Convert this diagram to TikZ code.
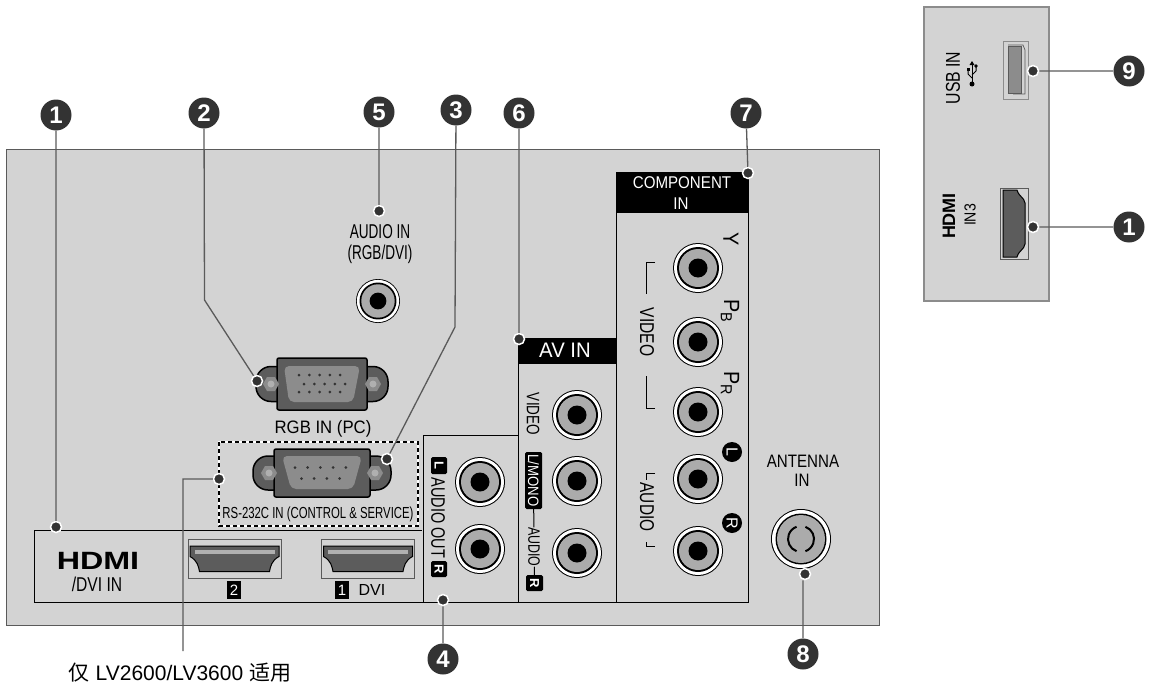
\documentclass[tikz,border=0pt]{standalone}
\usepackage{fontspec}
\usepackage{tikz}
\usepackage{xcolor}
\setmainfont{Liberation Sans}
\newfontfamily\cjk{Noto Sans CJK SC}
\usetikzlibrary{calc, positioning}

\definecolor{panelgray}{HTML}{D3D3D3}
\definecolor{jackgray}{HTML}{ABABAB}
\definecolor{portdark}{HTML}{5C5C5C}
\definecolor{portmid}{HTML}{8C8C8C}
\definecolor{portlight}{HTML}{B0B0B0}
\definecolor{badgedark}{HTML}{333333}
\definecolor{leadgray}{HTML}{5A5A5A}

\newcommand{\fs}[1]{\fontsize{#1}{#1}\selectfont}

\tikzset{
    badge/.style={circle, fill=badgedark, text=white, inner sep=0, minimum size=31pt, font=\fs{24}\bfseries},
    dot/.style={circle, fill=badgedark, draw=white, line width=1.5pt, inner sep=0, minimum size=11pt},
    lead/.style={draw=leadgray, line width=1.3pt},
    edgeline/.style={draw=black, line width=1pt},
    lab/.style={text=black, inner sep=0, transform shape, font=\fs{#1}},
    lab/.default=15,
    tagbox/.style={fill=black, text=white, inner sep=0, rounded corners=1.5pt, transform shape, font=\fs{13}\bfseries},
    tagdisc/.style={circle, fill=black, text=white, inner sep=0, minimum size=20pt, transform shape, rotate=-90, font=\fs{16}},
    pics/jack/.style={code={
        \fill[black] (0,0) circle (25);
        \fill[white] (0,0) circle (24);
        \fill[black] (0,0) circle (21);
        \fill[jackgray] (0,0) circle (19);
        \fill[black] (0,0) circle (9.5);
    }},
    pics/antjack/.style={code={
        \fill[black] (0,0) circle (30);
        \fill[white] (0,0) circle (29);
        \fill[black] (0,0) circle (25.5);
        \fill[jackgray] (0,0) circle (24);
        \draw[black, line width=2pt] (-70:13) arc (-70:70:13);
        \draw[black, line width=2pt] (110:13) arc (110:250:13);
    }},
    pics/hdmiport/.style={code={
        \draw[draw=leadgray, line width=1pt] (-46.5,-19.5) rectangle (46.5,19.5);
        \draw[fill=portdark, draw=black, line width=1pt] (-44.5,-12.5) -- (44.5,-12.5) -- (44.5,-2)
            .. controls (37,2) and (36,8) .. (35,13) -- (-35,13)
            .. controls (-36,8) and (-37,2) .. (-44.5,-2) -- cycle;
        \fill[portlight] (-40,-9) rectangle (40,-5);
    }},
    pics/vgaport/.style={code={
        \draw[fill=portdark, draw=black, line width=1.5pt, rounded corners=15pt] (-66,-17.5) rectangle (66,17.5);
        \draw[fill=portdark, draw=black, line width=1.5pt, rounded corners=2pt] (-45,-26) rectangle (45,26);
        \fill[portmid, rounded corners=5pt] (-38,-18) -- (38,-18) -- (31,18) -- (-33,18) -- cycle;
        \fill[portmid] (-59,0) -- (-55,-7) -- (-47,-7) -- (-43,0) -- (-47,7) -- (-55,7) -- cycle;
        \fill[portmid] (59,0) -- (55,-7) -- (47,-7) -- (43,0) -- (47,7) -- (55,7) -- cycle;
        \fill[portlight] (-51,0) circle (3.5);
        \fill[portlight] (51,0) circle (3.5);
        \foreach \i in {0,...,4} {
            \fill[black!80] (-23+10.3*\i,-9) circle (1.5);
            \fill[black!80] (-18+10.3*\i,0) circle (1.5);
            \fill[black!80] (-23+10.3*\i,8) circle (1.5);
        }
    }},
    pics/comport/.style={code={
        \draw[fill=portdark, draw=black, line width=1.5pt, rounded corners=15pt] (-69,-17) rectangle (69,17);
        \draw[fill=portdark, draw=black, line width=1.5pt, rounded corners=2pt] (-48,-24) rectangle (48,24);
        \fill[portmid, rounded corners=5pt] (-40,-17) -- (40,-17) -- (31,16) -- (-31,16) -- cycle;
        \fill[portmid] (-61,0) -- (-57,-7) -- (-49,-7) -- (-45,0) -- (-49,7) -- (-57,7) -- cycle;
        \fill[portmid] (61,0) -- (57,-7) -- (49,-7) -- (45,0) -- (49,7) -- (57,7) -- cycle;
        \fill[portlight] (-53,0) circle (3.5);
        \fill[portlight] (53,0) circle (3.5);
        \foreach \i in {0,...,4} {
            \fill[black!80] (-27+12.7*\i,-5.5) circle (1.5);
        }
        \foreach \i in {0,...,3} {
            \fill[black!80] (-20.5+12.7*\i,5.5) circle (1.5);
        }
    }},
}

\begin{document}
\begin{tikzpicture}[x=1pt, y=-1pt]
    \useasboundingbox (0,0) rectangle (1152,688);

    % panels
    \draw[fill=panelgray, draw=leadgray, line width=1pt] (6,149) rectangle (879,625);
    \draw[fill=panelgray, draw=portmid, line width=2pt] (924,7) rectangle (1049,301);

    % section outlines
    \draw[edgeline] (34,530) -- (422,530);
    \draw[edgeline] (34,530) -- (34,602) -- (748,602) -- (748,173);
    \draw[edgeline] (423,602) -- (423,435) -- (518,435);
    \draw[edgeline] (518,338) -- (518,602);
    \draw[edgeline] (616,173) -- (616,602);
    \fill[black] (616,172) rectangle (749,213);
    \fill[black] (518,338) rectangle (616,364);

    % dashed box
    \draw[white, line width=1.5pt] (219,442) rectangle (418,526);
    \draw[black, line width=1.5pt, dash pattern=on 4pt off 3pt] (219,442) rectangle (418,526);

    % connectors
    \pic at (322,384) {vgaport};
    \pic at (322,473) {comport};
    \pic at (234.5,558.5) {hdmiport};
    \pic at (368,558.5) {hdmiport};
    \pic[scale=.88] at (378,301) {jack};
    \pic at (698,268) {jack};
    \pic at (698,342) {jack};
    \pic at (698,412) {jack};
    \pic at (698,479) {jack};
    \pic at (698,551) {jack};
    \pic at (577,415) {jack};
    \pic at (577,481) {jack};
    \pic at (577,553) {jack};
    \pic at (480,482) {jack};
    \pic at (480,549) {jack};
    \pic at (801,539) {antjack};

    % side panel ports
    \draw[draw=portmid, line width=1pt] (1003,41) rectangle (1028,99);
    \draw[draw=leadgray, line width=.7pt] (1008,45) -- (1023,45) -- (1025,50) -- (1025,94) -- (1013,94);
    \draw[fill=portmid, draw=leadgray, line width=1pt] (1008,46) rectangle (1021,93);
    \draw[draw=leadgray, line width=1pt] (1000,188) rectangle (1028,259);
    \draw[fill=portdark, draw=black, line width=1pt] (1003,190) -- (1017,190)
        .. controls (1019,197) and (1024,197) .. (1025,203) -- (1025,244)
        .. controls (1024,250) and (1019,250) .. (1017,257) -- (1003,257) -- cycle;

    % usb symbol
    \draw[black, line width=1pt] (972,84) -- (972,64);
    \draw[black, line width=1pt] (972,78) -- (968,74) -- (968,70);
    \draw[black, line width=1pt] (972,75) -- (976,71) -- (976,67);
    \fill[black] (972,84) circle (2.5);
    \fill[black] (972,61) -- (969.5,65) -- (974.5,65) -- cycle;
    \fill[black] (966.5,68) rectangle (969.5,71);
    \fill[black] (976,66) circle (1.8);

    % labels
    \node[lab=18, xscale=.93] (rgblabel) at (323,429) {RGB IN (PC)};
    \node[lab=16, xscale=.71] (rslabel) at (318,514) {RS-232C IN (CONTROL \& SERVICE)};
    \node[lab=20, xscale=.68] (audioinlabel) at (380,232) {AUDIO IN};
    \node[lab=20, xscale=.68] (rgbdvilabel) at (380,254) {(RGB/DVI)};
    \node[lab=20, xscale=.78] (dvilabel) at (97,584) {/DVI IN};
    \node[lab=25, xscale=1.29, font=\fs{25}\bfseries] (hdmilogo) at (98,561) {HDMI};
    \node[fill=black, text=white, inner sep=0, minimum width=14pt, minimum height=18pt, font=\fs{15}] (tagtwo) at (234,590) {2};
    \node[fill=black, text=white, inner sep=0, minimum width=14pt, minimum height=18pt, font=\fs{15}] (tagone) at (342,590) {1};
    \node[lab=16] (dvitag) at (372,590) {DVI};
    \node[lab=17, text=white, xscale=.89] (complabel) at (682,183) {COMPONENT};
    \node[lab=17, text=white, xscale=.89] (inlabel) at (681,204) {IN};
    \node[lab=21, text=white, xscale=.967] (avlabel) at (565,350) {AV IN};
    \node[lab=22, rotate=-90, xscale=.9] (ylabel) at (731,239) {Y};
    \node[lab=22, rotate=-90, xscale=.9] (pblabel) at (730,311) {P\raisebox{-.15em}{\fs{16}B}};
    \node[lab=22, rotate=-90, xscale=.9] (prlabel) at (730,383) {P\raisebox{-.15em}{\fs{16}R}};
    \node[lab=20, rotate=-90, xscale=.78] (videolabel) at (647,332) {VIDEO};
    \node[lab=20, rotate=-90, xscale=.77] (audiolabel) at (647,507) {AUDIO};
    \node[tagdisc] (ldisc) at (732,452) {L};
    \node[tagdisc] (rdisc) at (732,523) {R};
    \node[lab=18, rotate=-90, xscale=.75] (avvideo) at (533,414) {VIDEO};
    \node[fill=black, inner sep=0, rounded corners=1.5pt, minimum width=17pt, minimum height=57pt] (monotag) at (533.5,480.5) {};
    \node[lab=15, text=white, rotate=-90, xscale=.88] (monolabel) at (533.5,480.5) {L/MONO};
    \node[lab=16.5, rotate=-90, xscale=.75] (avaudio) at (534,547) {AUDIO};
    \node[tagbox, minimum width=16pt, minimum height=17pt, rotate=-90] (avr) at (534.5,583) {R};
    \node[tagbox, minimum width=17pt, minimum height=16pt, rotate=-90] (outl) at (439,465.5) {L};
    \node[lab=19.5, rotate=-90, xscale=.74] (outlabel) at (438,518) {AUDIO OUT};
    \node[tagbox, minimum width=16pt, minimum height=16pt, rotate=-90] (outr) at (439,569) {R};
    \node[lab=18, xscale=.84] (antlabel) at (803,461) {ANTENNA};
    \node[lab=18, xscale=.84] (antin) at (802,480) {IN};
    \node[lab=21] (notelabel) at (180,673) {{\cjk 仅} LV2600/LV3600 {\cjk 适用}};
    \node[lab=20, rotate=90, xscale=.79] (usblabel) at (953,78) {USB IN};
    \node[lab=18, rotate=90, font=\fs{18}\bfseries] (sidelogo) at (949,216) {HDMI};
    \node[lab=16, rotate=90, xscale=.88] (in3label) at (970,215) {IN3};

    % small brackets
    \draw[black, line width=1pt] (655,262) -- (646,262) -- (646,294);
    \draw[black, line width=1pt] (655,408) -- (646,408) -- (646,376);
    \draw[black, line width=1pt] (655,473) -- (646,473) -- (646,480);
    \draw[black, line width=1pt] (655,546) -- (646,546) -- (646,542);
    \draw[black, line width=1pt] (monotag) -- (avaudio);
    \draw[black, line width=1pt] (avaudio) -- (avr);

    % numbered badges and dots
    \node[badge] (n1) at (56,115) {1};
    \node[badge] (n2) at (204,113) {2};
    \node[badge] (n5) at (379,112) {5};
    \node[badge] (n3) at (456,110) {3};
    \node[badge] (n6) at (519,113) {6};
    \node[badge] (n7) at (746,113) {7};
    \node[badge] (n9) at (1129,71) {9};
    \node[badge] (n1b) at (1129,227) {1};
    \node[badge] (n4) at (443,659) {4};
    \node[badge] (n8) at (803,654) {8};

    \node[dot] (d1) at (56,527) {};
    \node[dot] (d2) at (257,381) {};
    \node[dot] (d5) at (379,211) {};
    \node[dot] (d3) at (387,459) {};
    \node[dot] (d6) at (519,339) {};
    \node[dot] (d7) at (748,173) {};
    \node[dot] (d9) at (1033,71) {};
    \node[dot] (d1b) at (1033,227) {};
    \node[dot] (d4) at (443,600) {};
    \node[dot] (d8) at (805,574) {};
    \node[dot] (dnote) at (219,479) {};

    \coordinate (bend2) at (204.5,300);
    \coordinate (bend3) at (455,327);
    \coordinate (bendnote) at (183,479);
    \coordinate (endnote) at (183,651);

    \draw[lead]
    (n1) -- (d1)
    (n2) -- (bend2) -- (d2)
    (n5) -- (d5)
    (n3) -- (bend3) -- (d3)
    (n6) -- (d6)
    (n7) -- (d7)
    (n9) -- (d9)
    (n1b) -- (d1b)
    (n4) -- (d4)
    (n8) -- (d8.south -| n8)
    (dnote) -- (bendnote) -- (endnote);
\end{tikzpicture}
\end{document}
